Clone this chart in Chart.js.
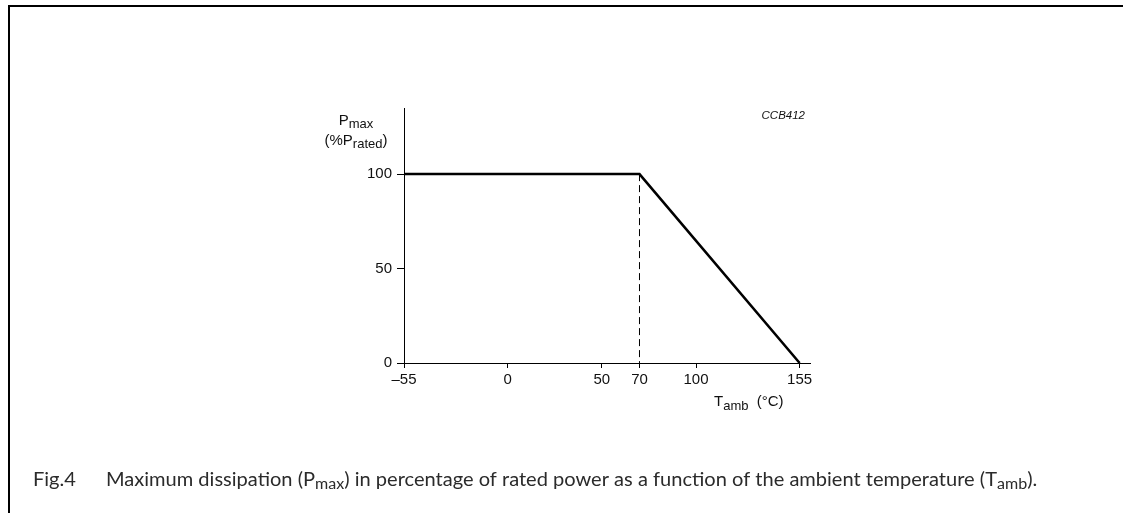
<!DOCTYPE html>
<html>
<head>
<meta charset="utf-8">
<script src="https://cdn.jsdelivr.net/npm/chart.js@4.4.1/dist/chart.umd.min.js"></script>
<style>
  html, body { margin: 0; padding: 0; background: #fff; }
  canvas { display: block; }
</style>
</head>
<body>
<canvas id="c" width="1123" height="513"></canvas>
<script>
// ---- data ----
const tempC = [-55, 70, 155];          // ambient temperature (°C)
const powerPct = [100, 100, 0];        // Pmax (% Prated)
const kneeTemp = [70, 70];             // dashed marker at 70 °C
const kneePower = [100, 0];
const xTickValues = [-55, 0, 50, 70, 100, 155];
const yTickValues = [0, 50, 100];
const xMin = -55, xMax = 160.5;
const yMin = 0, yMax = 135;

const mainLine = tempC.map((t, i) => ({ x: t, y: powerPct[i] }));
const kneeLine = kneeTemp.map((t, i) => ({ x: t, y: kneePower[i] }));

const AX = '"Liberation Sans", Arial, sans-serif';
const CAP = 'Lato, "Open Sans", sans-serif';

function drawParts(ctx, parts, x, y, align) {
  // parts: [text, sizePx, dy, fontFamily, style]
  let total = 0;
  const widths = parts.map(p => {
    ctx.font = (p[4] || '') + ' ' + p[1] + 'px ' + (p[3] || AX);
    const w = ctx.measureText(p[0]).width;
    total += w;
    return w;
  });
  let cx = x;
  if (align === 'center') cx = x - total / 2;
  else if (align === 'right') cx = x - total;
  ctx.textAlign = 'left';
  ctx.textBaseline = 'alphabetic';
  parts.forEach((p, i) => {
    ctx.font = (p[4] || '') + ' ' + p[1] + 'px ' + (p[3] || AX);
    ctx.fillText(p[0], cx, y + p[2]);
    cx += widths[i];
  });
  return total;
}

const decor = {
  id: 'decor',
  beforeDraw(chart) {
    const ctx = chart.ctx;
    ctx.save();
    ctx.fillStyle = '#fff';
    ctx.fillRect(0, 0, chart.width, chart.height);
    ctx.restore();
  },
  afterDraw(chart) {
    const ctx = chart.ctx;
    const a = chart.chartArea;
    const ys = chart.scales.y;
    ctx.save();
    // frame
    ctx.fillStyle = '#000';
    ctx.fillRect(8, 5, chart.width - 8, 2);
    ctx.fillRect(8, 5, 2, chart.height - 5);

    ctx.fillStyle = '#111';
    const y100 = ys.getPixelForValue(100);
    // y axis title
    drawParts(ctx, [['P', 15, 0], ['max', 13, 3]], a.left - 48, y100 - 49, 'center');
    drawParts(ctx, [['(%P', 15, 0], ['rated', 13, 3], [')', 15, 0]], a.left - 48, y100 - 29, 'center');
    // x axis title
    drawParts(ctx, [['T', 15, 0], ['amb', 13, 4], ['  (°C)', 15, 0]], a.left + 310, a.bottom + 43, 'left');
    // figure code
    drawParts(ctx, [['CCB412', 11.5, 0, AX, 'italic']], a.right - 5, a.top + 11, 'right');

    // caption
    ctx.fillStyle = '#2b2b2b';
    const capParts = (s) => [
      ['Maximum dissipation (P', s, 0, CAP], ['max', s * 0.8, 3, CAP],
      [') in percentage of rated power as a function of the ambient temperature (T', s, 0, CAP],
      ['amb', s * 0.8, 3, CAP], [').', s, 0, CAP]
    ];
    // fit caption width
    let s = 16;
    let w = 0;
    capParts(s).forEach(p => { ctx.font = p[1] + 'px ' + CAP; w += ctx.measureText(p[0]).width; });
    s = s * 932 / w;
    drawParts(ctx, [['Fig.4', s, 0, CAP]], 33, 486, 'left');
    drawParts(ctx, capParts(s), 106, 486, 'left');
    ctx.restore();
  }
};

new Chart(document.getElementById('c'), {
  type: 'scatter',
  data: {
    datasets: [
      { data: mainLine, showLine: true, borderColor: '#000', borderWidth: 2.5, pointRadius: 0, tension: 0, borderJoinStyle: 'miter' },
      { data: kneeLine, showLine: true, borderColor: '#000', borderWidth: 1, borderDash: [7, 4], pointRadius: 0 }
    ]
  },
  options: {
    responsive: false,
    devicePixelRatio: 1,
    animation: false,
    layout: { padding: { left: 364, right: 313, top: 108, bottom: 110 } },
    plugins: { legend: { display: false }, tooltip: { enabled: false } },
    scales: {
      x: {
        type: 'linear', min: xMin, max: xMax,
        afterFit: s => { s.height = 40; },
        afterBuildTicks: s => { s.ticks = xTickValues.map(v => ({ value: v })); },
        grid: { drawOnChartArea: false, drawTicks: true, tickLength: 5, color: '#000', tickWidth: 1 },
        border: { display: true, color: '#000', width: 1 },
        ticks: {
          padding: 3, color: '#111', maxRotation: 0, autoSkip: false,
          font: { family: AX, size: 15 },
          callback: v => (v < 0 ? '\u2013' + Math.abs(v) : String(v))
        }
      },
      y: {
        type: 'linear', min: yMin, max: yMax,
        afterFit: s => { s.width = 40; },
        afterBuildTicks: s => { s.ticks = yTickValues.map(v => ({ value: v })); },
        grid: { drawOnChartArea: false, drawTicks: true, tickLength: 7, color: '#000', tickWidth: 1 },
        border: { display: true, color: '#000', width: 1 },
        ticks: {
          padding: 5, color: '#111', autoSkip: false,
          font: { family: AX, size: 15 },
          callback: v => String(v)
        }
      }
    }
  },
  plugins: [decor]
});
</script>
</body>
</html>
